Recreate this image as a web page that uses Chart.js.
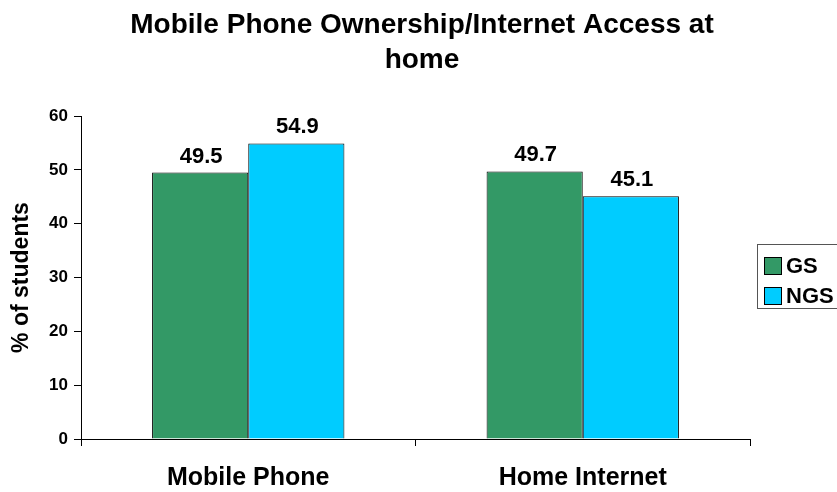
<!DOCTYPE html>
<html>
<head>
<meta charset="utf-8">
<script src="https://cdn.jsdelivr.net/npm/chart.js@4/dist/chart.umd.min.js"></script>
<style>
  html, body { margin: 0; padding: 0; background: #ffffff; }
  #wrap { width: 837px; height: 492px; }
</style>
</head>
<body>
<div id="wrap"><canvas id="c" width="837" height="492"></canvas></div>
<script>
// Ownership / access categories and the share of students in each group
const categories = ['Mobile Phone', 'Home Internet'];
const gsValues = [49.5, 49.7];
const ngsValues = [54.9, 45.1];
const seriesNames = ['GS', 'NGS'];
const yTicks = [0, 10, 20, 30, 40, 50, 60];
const titleLines = ['Mobile Phone Ownership/Internet Access at', 'home'];

const FONT = '"Liberation Sans", Arial, Helvetica, sans-serif';

// Two-line heading centred over the whole canvas
const heading = {
  id: 'heading',
  afterDraw(chart) {
    const ctx = chart.ctx;
    ctx.save();
    ctx.font = 'bold 28px ' + FONT;
    ctx.fillStyle = '#000';
    ctx.textAlign = 'center';
    ctx.textBaseline = 'alphabetic';
    titleLines.forEach((line, i) => ctx.fillText(line, 422, 33 + i * 35));
    ctx.restore();
  }
};

// Value labels drawn above each bar
const barValueLabels = {
  id: 'barValueLabels',
  afterDatasetsDraw(chart) {
    const ctx = chart.ctx;
    ctx.save();
    ctx.font = 'bold 22px ' + FONT;
    ctx.fillStyle = '#000';
    ctx.textAlign = 'center';
    ctx.textBaseline = 'alphabetic';
    chart.data.datasets.forEach((ds, i) => {
      chart.getDatasetMeta(i).data.forEach((bar, j) => {
        ctx.fillText(ds.data[j].toFixed(1), bar.x + 1, bar.y - 10);
      });
    });
    ctx.restore();
  }
};

// Boxed legend at the right edge
const boxedLegend = {
  id: 'boxedLegend',
  afterDraw(chart) {
    const ctx = chart.ctx;
    const x0 = 757, y0 = 244, w = 90, h = 64;
    ctx.save();
    ctx.strokeStyle = '#555';
    ctx.lineWidth = 1;
    ctx.strokeRect(x0 + 0.5, y0 + 0.5, w, h);
    ctx.font = 'bold 22px ' + FONT;
    ctx.textBaseline = 'middle';
    ctx.textAlign = 'left';
    chart.data.datasets.forEach((ds, i) => {
      const cy = y0 + 22 + i * 30;
      ctx.fillStyle = ds.backgroundColor;
      ctx.fillRect(x0 + 7.5, cy - 8.5, 17, 17);
      ctx.strokeStyle = '#000';
      ctx.strokeRect(x0 + 7.5, cy - 8.5, 17, 17);
      ctx.fillStyle = '#000';
      ctx.fillText(ds.label, x0 + 29, cy + 1);
    });
    ctx.restore();
  }
};

new Chart(document.getElementById('c'), {
  type: 'bar',
  data: {
    labels: categories,
    datasets: [
      { label: seriesNames[0], data: gsValues, backgroundColor: '#339966', borderColor: '#000', borderWidth: 1 },
      { label: seriesNames[1], data: ngsValues, backgroundColor: '#00CCFF', borderColor: '#000', borderWidth: 1 }
    ]
  },
  options: {
    responsive: false,
    animation: false,
    devicePixelRatio: 1,
    layout: { padding: { left: 0, right: 87, top: 116, bottom: 0 } },
    datasets: { bar: { categoryPercentage: 0.575, barPercentage: 1.0 } },
    plugins: {
      legend: { display: false },
      tooltip: { enabled: false },
      title: { display: false }
    },
    scales: {
      x: {
        grid: { display: true, drawOnChartArea: false, offset: true, color: '#000', tickLength: 7 },
        border: { display: true, color: '#000' },
        ticks: { color: '#000', font: { family: FONT, size: 25, weight: 'bold' }, padding: 17 },
        afterFit(scale) { scale.height = 53; }
      },
      y: {
        min: 0,
        max: 60,
        afterBuildTicks(scale) { scale.ticks = yTicks.map(v => ({ value: v })); },
        grid: { display: true, drawOnChartArea: false, color: '#000', tickLength: 7 },
        border: { display: true, color: '#000' },
        ticks: { color: '#000', font: { family: FONT, size: 17, weight: 'bold' }, padding: 6 },
        title: {
          display: true,
          text: '% of students',
          color: '#000',
          font: { family: FONT, size: 23, weight: 'bold' },
          padding: { top: 8, bottom: 0 }
        },
        afterFit(scale) { scale.width = 81; }
      }
    }
  },
  plugins: [heading, barValueLabels, boxedLegend]
});
</script>
</body>
</html>
